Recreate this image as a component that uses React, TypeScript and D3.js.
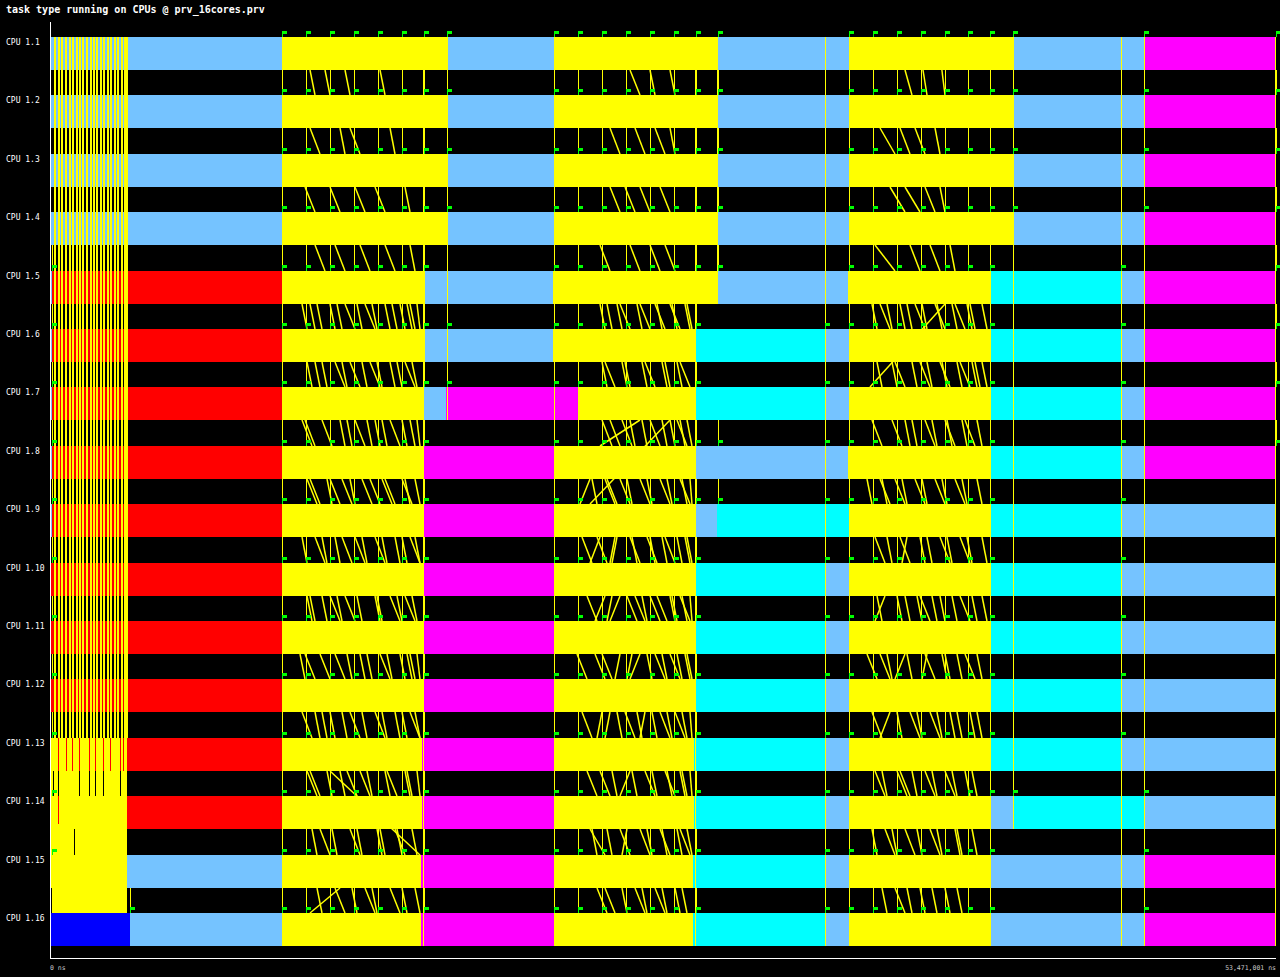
import { useEffect } from "react";
import * as d3 from "d3";

// trace: prv_16cores.prv, times in microseconds
const title = "task type running on CPUs @ prv_16cores.prv";
const cpus = [
  "CPU 1.1", "CPU 1.2", "CPU 1.3", "CPU 1.4", "CPU 1.5", "CPU 1.6", "CPU 1.7", "CPU 1.8",
  "CPU 1.9", "CPU 1.10", "CPU 1.11", "CPU 1.12", "CPU 1.13", "CPU 1.14", "CPU 1.15", "CPU 1.16",
];
const traceEndUs = 53471.001;
const axisLabels = ["0 ns", "53,471,001 ns"];

// task type -> colour
const typeColors: Record<string, string> = {
  idle: "#75c3ff",
  run: "#ffff00",
  init: "#ff0000",
  copy: "#00ffff",
  reduce: "#ff00ff",
  main: "#0000ff",
};

type Seg = [number, number, string];

const rowsTop: Seg[] = [
  [0, 10118, "idle"], [10118, 17315, "run"], [17315, 21981, "idle"], [21981, 29091, "run"],
  [29091, 34847, "idle"], [34847, 42000, "run"], [42000, 47714, "idle"], [47714, 53427, "reduce"],
];
const row5: Seg[] = [
  [0, 87, "idle"], [87, 10118, "init"], [10118, 16355, "run"], [16355, 21938, "idle"], [21938, 29091, "run"],
  [29091, 34804, "idle"], [34804, 40997, "run"], [40997, 46711, "copy"], [46711, 47714, "idle"], [47714, 53427, "reduce"],
];
const row6: Seg[] = [
  [0, 87, "idle"], [87, 10118, "init"], [10118, 16355, "run"], [16355, 21938, "idle"], [21938, 28131, "run"],
  [28131, 33801, "copy"], [33801, 34847, "idle"], [34847, 40997, "run"], [40997, 46711, "copy"],
  [46711, 47714, "idle"], [47714, 53427, "reduce"],
];
const row7: Seg[] = [
  [0, 87, "idle"], [87, 10118, "init"], [10118, 16312, "run"], [16312, 17271, "idle"], [17271, 23028, "reduce"],
  [23028, 28131, "run"], [28131, 33801, "copy"], [33801, 34847, "idle"], [34847, 40997, "run"],
  [40997, 46711, "copy"], [46711, 47714, "idle"], [47714, 53427, "reduce"],
];
const row8: Seg[] = [
  [0, 87, "idle"], [87, 10118, "init"], [10118, 16312, "run"], [16312, 21981, "reduce"], [21981, 28131, "run"],
  [28131, 34804, "idle"], [34804, 40997, "run"], [40997, 46711, "copy"], [46711, 47714, "idle"], [47714, 53427, "reduce"],
];
const row9: Seg[] = [
  [0, 87, "idle"], [87, 10162, "init"], [10162, 16312, "run"], [16312, 21981, "reduce"], [21981, 28131, "run"],
  [28131, 29091, "idle"], [29091, 34847, "copy"], [34847, 40997, "run"], [40997, 46711, "copy"], [46711, 53427, "idle"],
];
const rowsMid: Seg[] = [
  [0, 10118, "init"], [10118, 16268, "run"], [16268, 21981, "reduce"], [21981, 28131, "run"],
  [28131, 33801, "copy"], [33801, 34847, "idle"], [34847, 40997, "run"], [40997, 46711, "copy"], [46711, 53427, "idle"],
];
const row13: Seg[] = [
  [0, 3358, "run"], [3358, 10118, "init"], [10118, 16224, "run"], [16224, 21981, "reduce"], [21981, 28087, "run"],
  [28087, 33801, "copy"], [33801, 34847, "idle"], [34847, 40997, "run"], [40997, 46711, "copy"], [46711, 53427, "idle"],
];
const row14: Seg[] = [
  [0, 3358, "run"], [3358, 10118, "init"], [10118, 16224, "run"], [16224, 21981, "reduce"], [21981, 28087, "run"],
  [28087, 33801, "copy"], [33801, 34847, "idle"], [34847, 40997, "run"], [40997, 42000, "idle"],
  [42000, 47714, "copy"], [47714, 53427, "idle"],
];
const row15: Seg[] = [
  [0, 3358, "run"], [3358, 10118, "idle"], [10118, 16181, "run"], [16181, 21981, "reduce"], [21981, 28044, "run"],
  [28044, 33801, "copy"], [33801, 34847, "idle"], [34847, 40997, "run"], [40997, 47714, "idle"], [47714, 53427, "reduce"],
];
const row16: Seg[] = [
  [0, 3489, "main"], [3489, 10118, "idle"], [10118, 16181, "run"], [16181, 22025, "reduce"], [22025, 28044, "run"],
  [28044, 33801, "copy"], [33801, 34847, "idle"], [34847, 40997, "run"], [40997, 47714, "idle"], [47714, 53427, "reduce"],
];
const cpuSegments: Seg[][] = [
  rowsTop, rowsTop, rowsTop, rowsTop, row5, row6, row7, row8,
  row9, rowsMid, rowsMid, rowsMid, row13, row14, row15, row16,
];

// start-up burst of short tasks
const burstTimes = [
  218, 363, 523, 667, 829, 973, 1134, 1278, 1439, 1584, 1745,
  1889, 2037, 2193, 2342, 2499, 2647, 2804, 2952, 3109, 3257, 3340,
];
const burstRedRow13 = [349, 698, 960, 1265, 1701, 2006, 2312, 2617, 3053, 3227];
const burstRedRow14 = [349];
const burstGapIdle = [
  [131, 349, 1265, 1701, 2006, 2312, 3053], // 1.13 -> 1.14
  [1090], // 1.14 -> 1.15
  [87], // 1.15 -> 1.16
];

// event flags (task creation)
const blk1 = [10118, 11165, 12212, 13258, 14305, 15352, 16312];
const blk2 = [21981, 23028, 24075, 25122, 26168, 27215, 28175];
const blk3 = [34847, 35894, 36940, 37987, 39034, 40037, 40997];
const e0 = 87;
const flagsTop = [...blk1, 17315, ...blk2, 29135, ...blk3, 42000, 47714, 53471];
const cpuFlags: number[][] = [
  flagsTop, flagsTop, flagsTop, flagsTop,
  [e0, ...blk1, ...blk2, 29135, ...blk3, 46711, 53471],
  [e0, ...blk1, 17315, ...blk2, 33801, ...blk3, 46711, 53471],
  [e0, ...blk1, 17315, ...blk2, 33801, ...blk3, 46711, 53471],
  [e0, ...blk1, ...blk2, 29135, 33801, ...blk3, 46711, 53471],
  [e0, ...blk1, ...blk2, 29135, 33801, ...blk3, 46711],
  [e0, ...blk1, ...blk2, 33801, ...blk3, 46711],
  [e0, ...blk1, ...blk2, 33801, ...blk3, 46711],
  [e0, ...blk1, ...blk2, 33801, ...blk3, 46711],
  [e0, ...blk1, ...blk2, 33801, ...blk3, 46711],
  [e0, ...blk1, ...blk2, 33801, ...blk3, 42000, 47714],
  [e0, ...blk1, ...blk2, 33801, ...blk3, 47714],
  [3489, ...blk1, ...blk2, 33801, ...blk3, 47714],
];

// long communication lines [time, first cpu, last cpu]
const syncLines: [number, number, number][] = [
  [10118, 0, 15], [16268, 0, 15], [17315, 0, 6], [21981, 0, 15], [28131, 0, 15],
  [29091, 0, 4], [33801, 0, 15], [34847, 0, 15], [40997, 0, 15], [42000, 0, 13],
  [46711, 0, 15], [47714, 0, 15], [53427, 0, 15],
];

// messages between neighbouring cpus: [send on upper cpu, receive on lower cpu]
const gapMessages: [number, number][][] = [
  [[11340, 11558], [11994, 12212], [12866, 13084], [14393, 14611], [25296, 25732], [26168, 26387], [27041, 27259], [37290, 37595], [38075, 38250], [38900, 39034]],
  [[11340, 11776], [12648, 12866], [13084, 13520], [14829, 15047], [24424, 24860], [25514, 25950], [26387, 26823], [27041, 27259], [36200, 36854], [37072, 37508], [37726, 38162], [38599, 38816]],
  [[11122, 11558], [12212, 12648], [13302, 13738], [14175, 14611], [15483, 15701], [24424, 24860], [25078, 25514], [25732, 26168], [26605, 27041], [36636, 37290], [37290, 37944], [38162, 38599], [38816, 39034]],
  [[11558, 11994], [12430, 12866], [13520, 13956], [14611, 15047], [15701, 15919], [23988, 24424], [25296, 25732], [26168, 26605], [26823, 27259], [35982, 36854], [37508, 37944], [38380, 38816], [39253, 39471]],
  [[11340, 11558], [12212, 12430], [12866, 13302], [13738, 14175], [14611, 14829], [15265, 15483], [15701, 15919], [23988, 24206], [24860, 25296], [25732, 26168], [26387, 26823], [27041, 27477], [27695, 27913], [36200, 36636], [37072, 37290], [37726, 38162], [38599, 39034], [39471, 39907], [40125, 40343]],
  [[11558, 11776], [12430, 12866], [13084, 13520], [13956, 14393], [14829, 15047], [15483, 15919], [24206, 24642], [25078, 25296], [25950, 26387], [26823, 27041], [27477, 27913], [36854, 37290], [37944, 38380], [38816, 39253], [39689, 40125], [40343, 40561]],
  [[11122, 11558], [12648, 12866], [13302, 13738], [14175, 14393], [14829, 15265], [15701, 15919], [24424, 24860], [25296, 25514], [26168, 26605], [27041, 27259], [27477, 27695], [25732, 23988], [37290, 37508], [38162, 38599], [39034, 39471], [39907, 40343]],
  [[11340, 11776], [12212, 12648], [13084, 13302], [13956, 14393], [14611, 15047], [15483, 15701], [23552, 23115], [24206, 24642], [24860, 25296], [25732, 26168], [26605, 27041], [27477, 27913], [36200, 36636], [36854, 37290], [37726, 38162], [38599, 39034], [39471, 39907]],
  [[11558, 11994], [12430, 12648], [13302, 13738], [14175, 14611], [15047, 15265], [15701, 16137], [23988, 23552], [24642, 24424], [25296, 25732], [26168, 26387], [26823, 27259], [27695, 27913], [35982, 36418], [37072, 37508], [37944, 38162], [38816, 39253], [39689, 40125]],
  [[11340, 11558], [12212, 12648], [12866, 13302], [14175, 14393], [14829, 15265], [15483, 15919], [24206, 23770], [24860, 24424], [25514, 25950], [26168, 26605], [27041, 27259], [27477, 27913], [36418, 35982], [37290, 37508], [37944, 38380], [38816, 39034], [39689, 40125]],
  [[11122, 11558], [12430, 12866], [13520, 13738], [14393, 14829], [15265, 15483], [15701, 15919], [23770, 24206], [24860, 24642], [25732, 25296], [26387, 26823], [27041, 27477], [27695, 27913], [36200, 36636], [37290, 36854], [38162, 38599], [39034, 39253], [39907, 40343]],
  [[11558, 11776], [12212, 12430], [13084, 13520], [14175, 14611], [15047, 15265], [15701, 16137], [24424, 24206], [25078, 25514], [25950, 25732], [26605, 27041], [27259, 27695], [36636, 36200], [37508, 37944], [38380, 38816], [39253, 39471], [40125, 40343]],
  [[11340, 11776], [12648, 12866], [13520, 13956], [14611, 14829], [15483, 15701], [23988, 24424], [25296, 24860], [25950, 26387], [26823, 27259], [27477, 27695], [35982, 36418], [37072, 37508], [38162, 38599], [39034, 39471], [39907, 40125]],
  [[11776, 12212], [13084, 13520], [14393, 14611], [15047, 15483], [23552, 24206], [24860, 25296], [25732, 26168], [26605, 27041], [27477, 27913], [36418, 36854], [37290, 37726], [38380, 38816], [39471, 39689]],
  [[12430, 12866], [13738, 14175], [14829, 15265], [12648, 11340], [24206, 24642], [25514, 25950], [26387, 26823], [27259, 27477], [36854, 37290], [37944, 38162], [39034, 39253]],
];
// extra traffic in the busy phases, cpu 1.5 -> 1.16
const denseMessages: [number, number][][] = [
  [[10991, 11209], [11645, 11863], [12517, 12735], [13389, 13607], [14044, 14262], [14916, 15134], [15570, 15788], [16006, 16137], [24293, 24511], [24729, 24947], [25601, 25819], [26474, 26692], [27128, 27346], [27782, 28000], [35850, 36069], [36505, 36723], [37377, 37595], [38031, 38249], [38685, 38903], [39340, 39558], [39994, 40212], [40648, 40866]],
  [[11209, 11427], [11863, 12081], [12735, 12953], [13607, 13825], [14262, 14480], [15134, 15352], [15788, 16006], [24075, 24293], [24947, 25165], [25819, 26037], [26692, 26910], [27346, 27564], [36069, 36287], [36723, 36941], [37595, 37813], [38249, 38467], [38903, 39121], [39558, 39776], [40212, 40430], [40648, 40866]],
  [[10991, 11427], [11863, 12299], [12953, 13171], [13825, 14044], [14480, 14698], [15352, 15570], [16006, 16137], [24075, 24511], [24947, 25383], [25819, 26037], [26692, 26910], [27346, 27782], [27782, 28000], [35850, 36287], [36723, 37159], [37595, 37813], [38467, 38685], [39121, 39340], [39776, 39994], [40430, 40648]],
  [[11209, 11645], [12081, 12299], [12735, 13171], [13607, 14044], [14480, 14916], [15352, 15788], [15919, 16137], [23639, 23857], [24293, 24729], [25165, 25383], [26037, 26255], [26910, 27128], [27564, 27782], [27913, 28000], [35632, 35850], [36287, 36505], [37159, 37377], [38031, 38249], [38903, 39121], [39776, 39994], [40430, 40648]],
  [[10991, 11209], [11863, 12081], [12735, 13171], [13607, 13825], [14480, 14698], [15352, 15570], [15919, 16137], [23202, 23639], [23857, 24293], [24729, 24511], [25383, 25601], [26037, 26474], [26692, 26910], [27346, 27564], [27782, 28000], [36505, 36723], [37377, 37159], [38249, 38467], [39121, 39340], [39994, 40212], [40648, 40866]],
  [[11209, 11427], [11863, 12081], [12517, 12735], [13389, 13607], [14262, 14480], [15134, 15352], [15788, 16006], [23421, 23857], [24511, 24293], [25165, 25601], [25819, 26037], [26474, 26910], [27128, 27346], [27564, 27782], [27913, 28000], [36069, 36287], [36941, 37159], [37813, 38031], [38467, 38685], [39340, 39558], [40212, 40430], [40648, 40866]],
  [[10904, 11122], [11776, 12212], [12953, 13171], [13825, 14044], [14698, 14916], [15570, 15788], [16006, 16137], [22984, 23421], [24075, 24511], [25383, 25165], [26037, 26255], [26692, 26910], [27346, 27564], [27782, 28000], [35632, 36069], [36505, 36723], [37377, 37595], [38249, 38031], [38903, 39121], [39558, 39776], [40430, 40648]],
  [[10991, 11427], [11863, 12081], [12735, 12953], [13607, 13825], [14480, 14698], [15352, 15570], [15919, 16137], [23202, 23639], [24075, 23857], [24729, 24947], [25601, 25819], [26255, 26474], [26910, 27128], [27564, 27782], [27913, 28000], [35850, 36287], [36941, 37159], [37813, 38031], [38685, 38903], [39558, 39776], [40430, 40648]],
  [[11209, 11645], [12081, 12299], [12953, 13389], [13825, 14044], [14698, 15134], [15570, 15788], [16006, 16137], [23421, 23857], [24511, 24729], [25383, 25601], [26255, 26474], [26910, 27128], [27564, 27782], [27913, 28000], [36287, 36505], [36941, 37377], [37595, 37813], [38467, 38685], [39340, 39558], [40212, 40430]],
  [[11427, 11645], [12299, 12517], [13389, 13607], [14262, 14480], [15134, 15352], [15788, 16006], [23639, 23857], [24293, 24511], [25165, 24947], [26037, 26255], [26692, 26910], [27346, 27564], [27782, 28000], [35850, 36069], [36723, 36941], [37813, 38031], [38685, 38903], [39558, 39776], [40212, 40430]],
  [[11645, 11863], [13171, 13389], [14044, 14262], [15352, 15570], [15919, 16137], [23857, 24293], [24947, 25165], [25819, 26037], [26692, 26910], [27564, 27782], [36287, 36505], [37377, 37595], [38467, 38685], [39558, 39776]],
];
const denseFirstGap = 4;
// messages crossing several cpus: [from cpu, send, to cpu, receive]
const longMessages: [number, number, number, number][] = [
  [4, 39034, 6, 35763],
  [12, 12212, 14, 16137],
  [6, 27041, 8, 23552],
];

const FONT = "'DejaVu Sans Mono', monospace";

export default function App() {
  useEffect(() => {
    document.body.style.margin = "0";
    document.body.style.background = "#000";
  }, []);

  const width = 1280;
  const height = 977;
  const x = d3.scaleLinear().domain([0, traceEndUs]).range([50, 1276]);
  const y = d3
    .scaleBand<number>()
    .domain(d3.range(cpus.length))
    .range([37, 946])
    .paddingInner(0.435)
    .paddingOuter(0);
  const bh = y.bandwidth();
  const top = (r: number) => Math.round(y(r)!);
  const bot = (r: number) => Math.round(y(r)! + bh);
  const px = (t: number) => Math.round(x(t));

  const burstEnd = 3358;
  const allMessages: [number, number, number][] = [];
  gapMessages.forEach((ms, g) => ms.forEach(([a, b]) => allMessages.push([g, a, b])));
  denseMessages.forEach((ms, g) => ms.forEach(([a, b]) => allMessages.push([g + denseFirstGap, a, b])));

  return (
    <svg width={width} height={height} style={{ display: "block", background: "#000" }}>
      <rect width={width} height={height} fill="#000" />
      <text x={6} y={13} fill="#fff" fontFamily={FONT} fontSize={10} fontWeight="bold">
        {title}
      </text>

      {/* task bands */}
      <g shapeRendering="crispEdges">
        {cpuSegments.map((segs, r) =>
          segs.map(([s, e, t], i) => (
            <rect key={`${r}-${i}`} x={px(s)} y={top(r)} width={px(e) - px(s)} height={bot(r) - top(r)} fill={typeColors[t]} />
          ))
        )}
      </g>

      {/* start-up burst */}
      <g shapeRendering="crispEdges">
        {burstTimes.map((t, i) => (
          <rect key={i} x={Math.floor(x(t))} y={top(0)} width={2} height={top(12) - top(0)} fill="#ffff00" />
        ))}
        <rect x={px(0) + 1} y={top(12)} width={px(burstEnd) - px(0) - 1} height={top(15) - top(12)} fill="#ffff00" />
        {burstRedRow13.map((t, i) => (
          <rect key={`r13-${i}`} x={Math.floor(x(t))} y={top(12)} width={1} height={bot(12) - top(12)} fill="#ff0000" />
        ))}
        {burstRedRow14.map((t, i) => (
          <rect key={`r14-${i}`} x={Math.floor(x(t))} y={top(13)} width={1} height={28} fill="#ff0000" />
        ))}
        {burstGapIdle.map((ts, g) =>
          ts.map((t, i) => (
            <rect key={`g${g}-${i}`} x={Math.floor(x(t))} y={bot(12 + g)} width={1} height={top(13 + g) - bot(12 + g)} fill="#000" />
          ))
        )}
      </g>

      {/* long communication lines */}
      <g shapeRendering="crispEdges">
        {syncLines.map(([t, a, b], i) => (
          <line key={i} x1={px(t) + 0.5} x2={px(t) + 0.5} y1={top(a)} y2={bot(b)} stroke="#ffff00" strokeWidth={1} />
        ))}
      </g>

      {/* vertical arrivals at flags */}
      <g shapeRendering="crispEdges">
        {cpuFlags.map((fl, r) =>
          r === 0
            ? null
            : fl.map((t, i) => (
                <line key={`${r}-${i}`} x1={px(t) + 0.5} x2={px(t) + 0.5} y1={bot(r - 1)} y2={top(r)} stroke="#ffff00" strokeWidth={1.5} />
              ))
        )}
      </g>

      {/* messages */}
      <g stroke="#ffff00" strokeWidth={1.5}>
        {allMessages.map(([g, a, b], i) => (
          <line key={i} x1={x(a)} y1={bot(g)} x2={x(b)} y2={top(g + 1)} />
        ))}
        {longMessages.map(([ra, a, rb, b], i) => (
          <line key={`l${i}`} x1={x(a)} y1={bot(ra)} x2={x(b)} y2={top(rb)} />
        ))}
      </g>

      {/* flags */}
      <g shapeRendering="crispEdges" fill="#00ff00">
        {cpuFlags.map((fl, r) =>
          fl.map((t, i) => (
            <g key={`${r}-${i}`}>
              <rect x={px(t)} y={top(r) - 6} width={1} height={6} />
              <rect x={px(t)} y={top(r) - 6} width={5} height={3} />
            </g>
          ))
        )}
      </g>

      {/* cpu labels */}
      {cpus.map((c, r) => (
        <text key={c} x={6} y={top(r) + 7.5} fill="#fff" fontFamily={FONT} fontSize={8}>
          {c}
        </text>
      ))}

      {/* axes */}
      <g shapeRendering="crispEdges" stroke="#fff">
        <line x1={50.5} x2={50.5} y1={22} y2={959} />
        <line x1={50} x2={1276} y1={958.5} y2={958.5} />
      </g>
      <text x={50} y={970} fill="#c8c8c8" fontFamily={FONT} fontSize={6.5}>
        {axisLabels[0]}
      </text>
      <text x={1276} y={970} fill="#c8c8c8" fontFamily={FONT} fontSize={6.5} textAnchor="end">
        {axisLabels[1]}
      </text>
    </svg>
  );
}
